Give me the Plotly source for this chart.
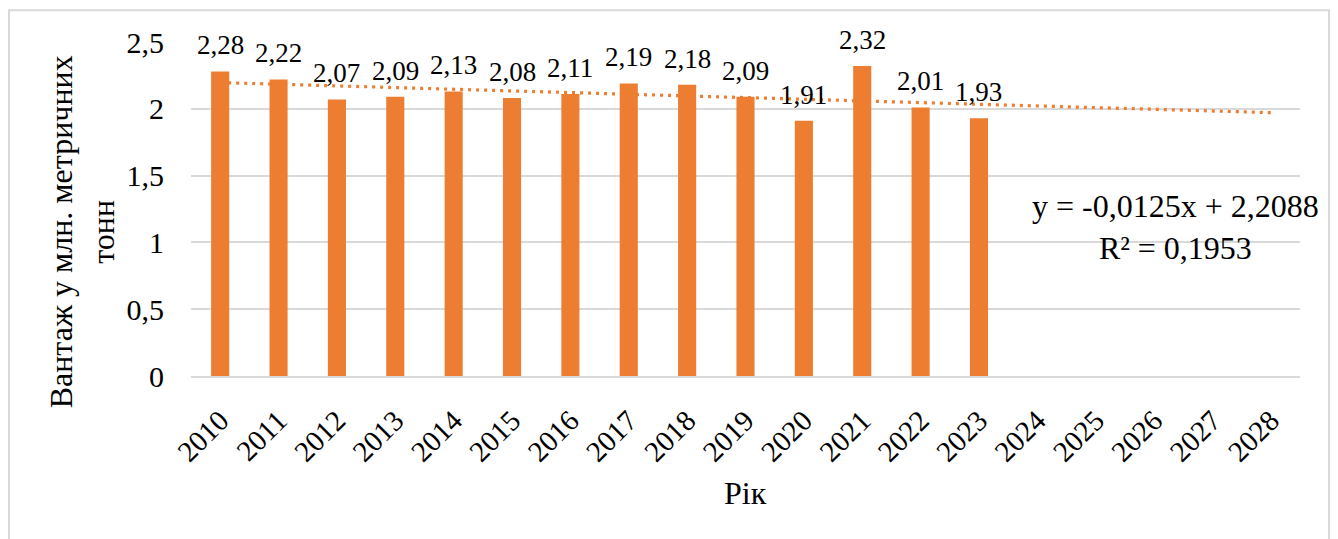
import plotly.graph_objects as go

# Annual cargo volume, million metric tons
years = list(range(2010, 2029))
cargo_years = years[:14]
cargo = [2.28, 2.22, 2.07, 2.09, 2.13, 2.08, 2.11, 2.19, 2.18, 2.09, 1.91, 2.32, 2.01, 1.93]
cargo_labels = ["2,28", "2,22", "2,07", "2,09", "2,13", "2,08", "2,11", "2,19", "2,18",
                "2,09", "1,91", "2,32", "2,01", "1,93"]

# Linear trend (period index 1..19) as stated in the equation label
trend_slope = -0.0125
trend_intercept = 2.2088
trend_r2_label = "0,1953"
trend_eq_label = "y = -0,0125x + 2,2088"

y_ticks = [0, 0.5, 1, 1.5, 2, 2.5]

ORANGE = "#ED7D31"
GRID = "#D9D9D9"
FONT = "Times New Roman, Liberation Serif, DejaVu Serif, serif"

trend_y = [trend_slope * (i + 1) + trend_intercept for i in range(len(years))]

fig = go.Figure()
fig.add_trace(go.Bar(
    x=cargo_years, y=cargo, width=0.31,
    marker=dict(color=ORANGE, line=dict(width=0)),
    hoverinfo="x+y", showlegend=False,
))
fig.add_trace(go.Scatter(
    x=years, y=trend_y, mode="lines",
    line=dict(color=ORANGE, width=3.2, dash="3px,5px"),
    hoverinfo="skip", showlegend=False,
))

annotations = []
for yr, v, lab in zip(cargo_years, cargo, cargo_labels):
    annotations.append(dict(
        x=yr, y=v, xref="x", yref="y", text=lab, showarrow=False,
        yanchor="middle", yshift=26, font=dict(family=FONT, size=27, color="black"),
    ))

# Axis titles and trend equation
annotations.append(dict(
    x=-0.098, y=0.431, xref="paper", yref="paper",
    text="Вантаж у млн. метричних<br>тонн", textangle=-90, showarrow=False,
    xanchor="center", yanchor="middle",
    font=dict(family=FONT, size=32, color="black"),
))
annotations.append(dict(
    x=0.5, y=-0.35, xref="paper", yref="paper", text="Рік", showarrow=False,
    xanchor="center", yanchor="middle",
    font=dict(family=FONT, size=32, color="black"),
))
annotations.append(dict(
    x=0.888, y=0.4457, xref="paper", yref="paper",
    text=f"{trend_eq_label}<br>R² = {trend_r2_label}", showarrow=False,
    xanchor="center", yanchor="middle", align="center",
    font=dict(family=FONT, size=32, color="black"),
))

fig.update_layout(
    width=1338, height=539,
    margin=dict(l=191, r=38, t=42, b=163),
    paper_bgcolor="white", plot_bgcolor="white",
    separators=", ",
    annotations=annotations,
    shapes=[dict(
        type="rect", xref="paper", yref="paper",
        x0=-0.1641, x1=1.0262, y0=-0.7, y1=1.0948,
        line=dict(color=GRID, width=2), fillcolor="rgba(0,0,0,0)", layer="below",
    )],
    font=dict(family=FONT, color="black"),
)
fig.update_xaxes(
    range=[years[0] - 0.5, years[-1] + 0.5], tickvals=years,
    ticktext=[str(y) for y in years],
    tickangle=-45, tickfont=dict(family=FONT, size=29, color="black"),
    showgrid=False, showline=True, linecolor=GRID, linewidth=2,
    zeroline=False, ticks="", ticklabelstandoff=14,
)
fig.update_yaxes(
    range=[0, 2.5], tickvals=y_ticks,
    tickfont=dict(family=FONT, size=30, color="black"),
    showgrid=True, gridcolor=GRID, gridwidth=2,
    zeroline=False, showline=False, ticks="", ticklabelstandoff=26,
)

fig.write_html("out.html")
